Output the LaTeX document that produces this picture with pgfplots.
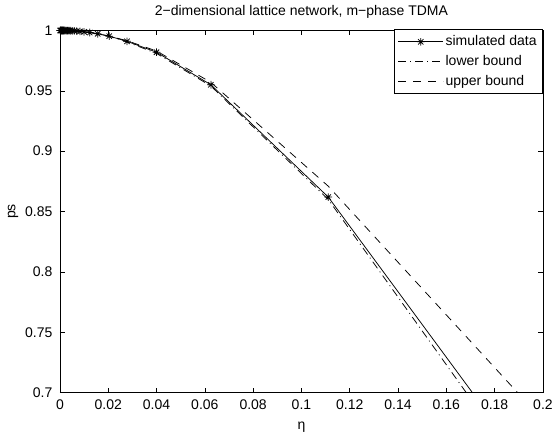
\documentclass[border=0pt]{standalone}
\usepackage{fontspec}
\setmainfont{Liberation Sans}
\usepackage{pgfplots}
\usepackage{pgfplotstable}
\pgfplotsset{compat=1.18}

\pgfdeclareplotmark{mstar}{%
  \pgfpathmoveto{\pgfqpoint{-\pgfplotmarksize}{0pt}}%
  \pgfpathlineto{\pgfqpoint{\pgfplotmarksize}{0pt}}%
  \pgfpathmoveto{\pgfqpoint{0pt}{-\pgfplotmarksize}}%
  \pgfpathlineto{\pgfqpoint{0pt}{\pgfplotmarksize}}%
  \pgfpathmoveto{\pgfqpoint{-0.707\pgfplotmarksize}{-0.707\pgfplotmarksize}}%
  \pgfpathlineto{\pgfqpoint{0.707\pgfplotmarksize}{0.707\pgfplotmarksize}}%
  \pgfpathmoveto{\pgfqpoint{-0.707\pgfplotmarksize}{0.707\pgfplotmarksize}}%
  \pgfpathlineto{\pgfqpoint{0.707\pgfplotmarksize}{-0.707\pgfplotmarksize}}%
  \pgfusepathqstroke}

\pgfplotstableread{
eta        sim      lower    upper
0.25       0.485    0.471    0.568
0.1111     0.862    0.860    0.871
0.0625     0.955    0.954    0.957
0.04       0.982    0.981    0.983
0.027778   0.991    0.9905   0.9915
0.020408   0.99529  0.99520  0.99535
0.015625   0.99724  0.99718  0.99728
0.012346   0.99828  0.99825  0.99830
0.01       0.99887  0.99885  0.99889
0.0082645  0.99923  0.99922  0.99924
0.0069444  0.99946  0.99945  0.99947
0.0059172  0.99960  0.99960  0.99961
0.0051020  0.99971  0.99971  0.99971
0.0044444  0.99978  0.99978  0.99978
0.0039063  0.99983  0.99983  0.99983
0.0034602  0.99986  0.99986  0.99986
0.0030864  0.99989  0.99989  0.99989
0.0027701  0.99991  0.99991  0.99991
0.0025     0.99993  0.99993  0.99993
0.0020661  0.99995  0.99995  0.99995
0.0017361  0.99997  0.99997  0.99997
0.0014793  0.99998  0.99998  0.99998
0.0012755  0.99998  0.99998  0.99998
0.0011111  0.99999  0.99999  0.99999
0.00081633 0.99999  0.99999  0.99999
0.000625   1.0      1.0      1.0
0.0004     1.0      1.0      1.0
0.00020408 1.0      1.0      1.0
0.0001     1.0      1.0      1.0
}\datatable

\begin{document}
\begin{tikzpicture}[font=\fontsize{14}{16.8}\selectfont]
\begin{axis}[
  scale only axis,
  width=483.5pt, height=362.5pt,
  xmin=0, xmax=0.2, ymin=0.7, ymax=1,
  xtick={0,0.02,0.04,0.06,0.08,0.1,0.12,0.14,0.16,0.18,0.2},
  ytick={0.7,0.75,0.8,0.85,0.9,0.95,1},
  /pgf/number format/.cd, fixed, precision=2, assume math mode=true,
  /pgfplots/.cd,
  tick align=inside,
  xtick pos=both, ytick pos=both,
  major tick length=5pt,
  axis line style={line width=0.75pt},
  every tick/.style={black, line width=0.6pt},
  xticklabel style={yshift=-4pt},
  yticklabel style={xshift=-4pt},
  title={2−dimensional lattice network, m−phase TDMA},
  title style={yshift=3pt},
  xlabel={η},
  xlabel style={yshift=-5pt},
  ylabel={ps},
  clip mode=individual,
  legend cell align=left,
  legend style={at={(1,1)}, anchor=north east, yshift=1pt,
    fill=white, draw=black, line width=0.75pt,
    inner xsep=4pt, inner ysep=2pt,
    nodes={inner xsep=2pt, inner ysep=3.5pt, text height=10pt, text depth=3pt}},
  legend image code/.code={%
    \draw[mark=none] (0pt,0pt) -- (45pt,0pt);
    \draw plot coordinates {(22.5pt,0pt)};},
]
% simulated data: the line (all points, clipped at the axis)
\addplot[black, line width=0.75pt, mark=none, forget plot]
  table[x=eta, y=sim] {\datatable};
% simulated data: the markers inside the plotted range
\addplot[black, line width=0.75pt, only marks, mark=mstar, mark size=3.8pt,
  restrict x to domain=0:0.2]
  table[x=eta, y=sim] {\datatable};
\addlegendentry{simulated data}
\addplot[black, line width=0.75pt, dash pattern=on 8pt off 4pt on 1pt off 4pt]
  table[x=eta, y=lower] {\datatable};
\addlegendentry{lower bound}
\addplot[black, line width=0.75pt, dash pattern=on 8pt off 7pt]
  table[x=eta, y=upper] {\datatable};
\addlegendentry{upper bound}
\end{axis}
\path ([shift={(-60pt,-37pt)}]current axis.south west) rectangle ++(556pt,430pt);
\end{tikzpicture}
\end{document}
